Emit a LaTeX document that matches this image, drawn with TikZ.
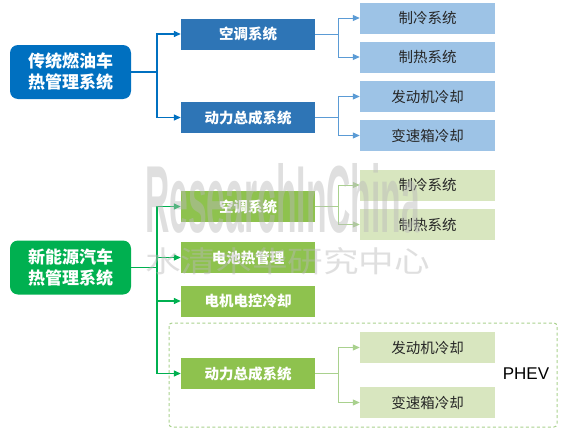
\documentclass[tikz,border=0pt]{standalone}
\usepackage{fontspec}
\usepackage{tikz}
\usetikzlibrary{arrows.meta, calc}
\setmainfont{Noto Sans CJK SC}
\newfontfamily\latinfont{Liberation Sans}
\definecolor{rootblue}{RGB}{0,112,192}
\definecolor{midblue}{RGB}{46,117,182}
\definecolor{leafblue}{RGB}{157,195,230}
\definecolor{lineblue}{RGB}{91,155,213}
\definecolor{rootgreen}{RGB}{0,176,80}
\definecolor{midgreen}{RGB}{142,194,78}
\definecolor{leafgreen}{RGB}{216,230,191}
\definecolor{linegreen}{RGB}{169,209,142}
\definecolor{leaftext}{RGB}{38,38,38}
\tikzset{
  rootbox/.style={
    rounded corners=8pt, minimum width=121pt, minimum height=54pt,
    inner sep=0pt, align=center, text=white,
    font=\fontsize{17}{21}\selectfont\bfseries
  },
  midbox/.style={
    minimum width=134pt, minimum height=31pt, inner sep=0pt,
    text=white, font=\fontsize{14.5}{17}\selectfont\bfseries
  },
  leafbox/.style={
    minimum width=135pt, minimum height=31pt, inner sep=0pt,
    text=leaftext, font=\fontsize{14.5}{17}\selectfont
  },
  branch/.style={line width=1.3pt, -{Triangle[length=7pt,width=6pt]}},
  twig/.style={line width=1pt, -{Triangle[length=7pt,width=6pt]}},
}

\begin{document}
\begin{tikzpicture}[x=1pt, y=-1pt]
  \useasboundingbox (0,0) rectangle (568,431);

  % Conventional vehicle
  \node[rootbox, fill=rootblue] (tradroot) at (70.5,72) {传统燃油车\\热管理系统};
  \node[midbox, fill=midblue] (tac) at (248,34) {空调系统};
  \node[midbox, fill=midblue] (tpt) at (248,117.5) {动力总成系统};
  \node[leafbox, fill=leafblue] (tcool) at (427.5,18) {制冷系统};
  \node[leafbox, fill=leafblue] (theat) at (427.5,57) {制热系统};
  \node[leafbox, fill=leafblue] (teng) at (427.5,96.5) {发动机冷却};
  \node[leafbox, fill=leafblue] (tgear) at (427.5,135.5) {变速箱冷却};

  \coordinate (tj) at (157,0);
  \coordinate (tk) at (338,0);
  \foreach \m in {tac,tpt} {
    \draw[branch, rootblue] (tradroot.east) -- (tradroot.east -| tj) |- (\m.west);
  }
  \foreach \m/\l in {tac/tcool,tac/theat,tpt/teng,tpt/tgear} {
    \draw[twig, lineblue] (\m.east) -- (\m.east -| tk) |- (\l.west);
  }

  % New energy vehicle
  \node[rootbox, fill=rootgreen] (everoot) at (70.5,267.5) {新能源汽车\\热管理系统};
  \node[midbox, fill=midgreen] (eac) at (248,206.5) {空调系统};
  \node[midbox, fill=midgreen] (ebat) at (248,257.5) {电池热管理};
  \node[midbox, fill=midgreen] (emot) at (248,301) {电机电控冷却};
  \node[midbox, fill=midgreen] (ept) at (248,373.5) {动力总成系统};
  \node[leafbox, fill=leafgreen] (ecool) at (427.5,185) {制冷系统};
  \node[leafbox, fill=leafgreen] (eheat) at (427.5,224.5) {制热系统};
  \node[leafbox, fill=leafgreen] (eeng) at (427.5,347.5) {发动机冷却};
  \node[leafbox, fill=leafgreen] (egear) at (427.5,402.5) {变速箱冷却};

  \foreach \m in {eac,ebat,emot,ept} {
    \draw[branch, rootgreen] (everoot.east) -- (everoot.east -| tj) |- (\m.west);
  }
  \foreach \m/\l in {eac/ecool,eac/eheat,ept/eeng,ept/egear} {
    \draw[twig, linegreen] (\m.east) -- (\m.east -| tk) |- (\l.west);
  }

  % PHEV frame
  \draw[linegreen, line width=1pt, dash pattern=on 3pt off 2.5pt, rounded corners=3pt]
    (169,323) rectangle (557,427);
  \node[font=\latinfont\fontsize{17}{20}\selectfont, text=black] (phev) at (526,374) {PHEV};

  % Watermark
  \node[text=gray!55, opacity=0.45, inner sep=0pt, anchor=north west] (wmen) at (145,163)
    {\resizebox{275pt}{69pt}{\latinfont\bfseries ResearchInChina}};
  \node[text=gray!55, opacity=0.45, inner sep=0pt, anchor=north west] (wmcn) at (145,247)
    {\resizebox{285pt}{25pt}{水清木华研究中心}};
\end{tikzpicture}
\end{document}
